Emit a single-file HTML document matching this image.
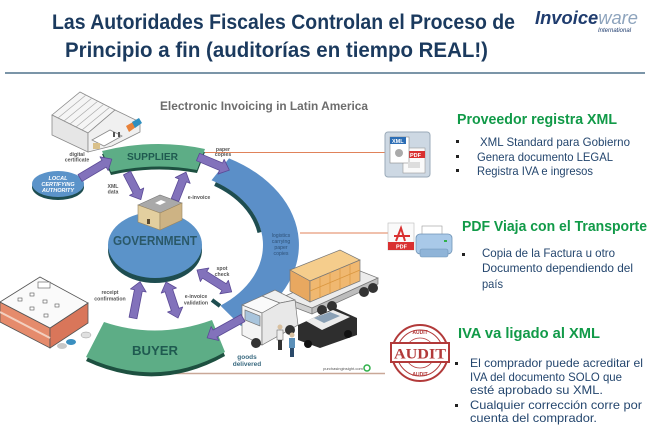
<!DOCTYPE html>
<html><head><meta charset="utf-8"><style>
html,body{margin:0;padding:0;background:#fff;}
svg{display:block;}
</style></head><body>
<svg width="650" height="439" viewBox="0 0 650 439" xmlns="http://www.w3.org/2000/svg" font-family="'Liberation Sans', sans-serif">
<rect width="650" height="439" fill="#fff"/>
<!-- Title -->
<text x="52" y="29" font-size="21" font-weight="bold" fill="#1b3a5e" textLength="463" lengthAdjust="spacingAndGlyphs">Las Autoridades Fiscales Controlan el Proceso de</text>
<text x="65" y="57" font-size="21" font-weight="bold" fill="#1b3a5e" textLength="423" lengthAdjust="spacingAndGlyphs">Principio a fin (auditorías en tiempo REAL!)</text>
<!-- Logo -->
<text x="535" y="24" font-size="18" font-weight="bold" font-style="italic" textLength="103" lengthAdjust="spacingAndGlyphs"><tspan fill="#1f3c6e">Invoice</tspan><tspan fill="#8ea4bd" font-weight="normal">ware</tspan></text>
<text x="598" y="32" font-size="6" font-style="italic" fill="#1f3c6e">International</text>
<line x1="5" y1="73" x2="645" y2="73" stroke="#7b95a8" stroke-width="2"/>

<!-- Diagram title -->
<text x="160" y="110" font-size="11.5" font-weight="bold" fill="#6d6d6d" textLength="208" lengthAdjust="spacingAndGlyphs">Electronic Invoicing in Latin America</text>

<!-- connector lines -->
<line x1="205" y1="152.5" x2="386" y2="152.5" stroke="#e0825a" stroke-width="1"/>
<line x1="300" y1="233" x2="388" y2="233" stroke="#e0825a" stroke-width="1"/>
<line x1="175" y1="373.5" x2="385" y2="373.5" stroke="#c9a898" stroke-width="1.5"/>

<!-- Supplier warehouse -->
<g stroke="#8a8a8a" stroke-width="0.8">
<polygon points="52,115 80,92 115,110 88,133" fill="#f5f5f5"/>
<g stroke="#aaa" stroke-width="0.7">
<line x1="58" y1="118" x2="86" y2="95"/><line x1="64" y1="121" x2="92" y2="98"/><line x1="70" y1="124" x2="98" y2="101"/><line x1="76" y1="127" x2="104" y2="104"/><line x1="82" y1="130" x2="110" y2="107"/>
</g>
<polygon points="52,115 88,133 88,152 52,135" fill="#e6e6e6"/>
<polygon points="88,133 115,110 140,122 140,132 112,146 88,152" fill="#f0f0f0"/>
<polygon points="92,140 110,130 122,136 104,146" fill="#fff"/>
</g>
<rect x="93" y="143" width="7" height="6" fill="#d9c08a"/>
<rect x="113" y="132" width="2" height="5" fill="#555"/>
<rect x="118" y="132" width="2" height="5" fill="#555"/>
<polygon points="126,126 133,122 136,127 129,132" fill="#e8823a"/>
<polygon points="132,122 139,118 142,123 135,128" fill="#2f8fbf"/>

<!-- Big blue arc -->
<path d="M229,158.4 A136,99 0 0 1 241,326 L220.4,305.6 A100,74 0 0 0 211.5,180.3 Z" fill="#5b8fc8"/>
<path d="M215,184 A98,72 0 0 1 259.5,232.5" fill="none" stroke="#1e4d50" stroke-width="4"/>
<path d="M212,300 L220,306" stroke="#1e4d50" stroke-width="4"/>

<!-- Supplier band -->
<path d="M102,154 Q155,141 205,152 L197,173 Q155,165 111,175 Z" fill="#1d5040"/>
<path d="M102,151 Q155,138 205,149 L197,170 Q155,162 111,172 Z" fill="#5dad86"/>
<text x="127" y="160" font-size="10" font-weight="bold" fill="#1f5a50" textLength="51" lengthAdjust="spacingAndGlyphs">SUPPLIER</text>

<!-- Government disc -->
<ellipse cx="155" cy="250" rx="47" ry="33" fill="#1e4d50"/>
<ellipse cx="155" cy="245" rx="47" ry="33" fill="#5b93c9"/>
<!-- gov building -->
<polygon points="138,205 160,195 182,203 160,213" fill="#a9a9a9" stroke="#777" stroke-width="0.6"/>
<polygon points="138,205 160,213 160,230 138,222" fill="#e3cf9f" stroke="#9a8660" stroke-width="0.6"/>
<polygon points="160,213 182,203 182,220 160,230" fill="#cdb384" stroke="#9a8660" stroke-width="0.6"/>
<polygon points="155,203 161,200 166,202 160,205" fill="#fff"/>
<rect x="147" y="219" width="3" height="5" fill="#5a4a30"/>
<text x="113" y="245" font-size="13" font-weight="bold" fill="#2a5868" textLength="84" lengthAdjust="spacingAndGlyphs">GOVERNMENT</text>

<!-- Local certifying authority -->
<ellipse cx="58" cy="187" rx="26" ry="13" fill="#1e4d50"/>
<ellipse cx="58" cy="184" rx="26" ry="13" fill="#5b93c9"/>
<g font-size="5.5" font-weight="bold" font-style="italic" fill="#fff" text-anchor="middle">
<text x="58" y="180">LOCAL</text><text x="58" y="186">CERTIFYING</text><text x="58" y="192">AUTHORITY</text>
</g>

<!-- Buyer band -->
<path d="M104,326 Q157,344 212,324 L225,356 Q157,394 86,361 Z" fill="#1d5040"/>
<path d="M104,322 Q157,340 212,320 L225,352 Q157,390 86,357 Z" fill="#5dad86"/>
<text x="132" y="355" font-size="13" font-weight="bold" fill="#1f5a50" textLength="46" lengthAdjust="spacingAndGlyphs">BUYER</text>

<!-- Buyer building -->
<g stroke="#555" stroke-width="0.8">
<polygon points="0,302 50,328 50,348 0,322" fill="#e58b6c"/>
<polygon points="50,328 88,303 88,323 50,348" fill="#d9765a"/>
<polygon points="0,302 40,277 88,303 50,328" fill="#fafafa"/>
</g>
<g fill="#fff" stroke="#555" stroke-width="0.6">
<rect x="38" y="282" width="12" height="6"/>
<rect x="18" y="298" width="4" height="3"/><rect x="30" y="293" width="4" height="3"/><rect x="43" y="300" width="4" height="3"/>
<rect x="30" y="307" width="4" height="3"/><rect x="55" y="304" width="4" height="3"/><rect x="44" y="314" width="4" height="3"/>
</g>
<line x1="0" y1="312" x2="50" y2="338" stroke="#f3d0c0" stroke-width="2"/>
<ellipse cx="62" cy="346" rx="5" ry="3" fill="#c8c8c8"/>
<ellipse cx="71" cy="342" rx="5" ry="3" fill="#3a8fc0"/>
<ellipse cx="86" cy="335" rx="5" ry="3" fill="#e0e0e0" stroke="#999" stroke-width="0.5"/>

<!-- Truck -->
<g stroke="#777" stroke-width="0.7">
<polygon points="283,297 350,267 378,278 312,308" fill="#ececec"/>
<polygon points="283,297 312,308 312,314 283,303" fill="#cfcfcf"/>
<polygon points="312,308 378,278 378,284 312,314" fill="#bdbdbd"/>
<polygon points="290,270 340,250 360,260 310,281" fill="#f5cd8c"/>
<polygon points="290,270 310,281 310,302 290,291" fill="#e8a860"/>
<polygon points="310,281 360,260 360,281 310,302" fill="#f0b870"/>
</g>
<g stroke="#d9963f" stroke-width="0.7">
<line x1="320" y1="277" x2="320" y2="298"/><line x1="330" y1="272" x2="330" y2="294"/><line x1="340" y1="268" x2="340" y2="290"/><line x1="350" y1="264" x2="350" y2="285"/>
<line x1="310" y1="291" x2="360" y2="270"/>
</g>
<circle cx="364" cy="292" r="5" fill="#333"/><circle cx="373" cy="288" r="5" fill="#333"/>
<circle cx="322" cy="310" r="5" fill="#333"/><circle cx="332" cy="306" r="5" fill="#333"/>
<g stroke="#777" stroke-width="0.7">
<polygon points="242,305 262,296 280,303 262,313" fill="#fafafa"/>
<polygon points="262,296 275,290 295,300 280,303" fill="#f0f0f0"/>
<polygon points="242,305 262,313 262,345 242,335" fill="#f4f4f4"/>
<polygon points="262,313 280,303 295,300 298,325 262,345" fill="#e8e8e8"/>
<polygon points="245,310 260,316 260,326 245,320" fill="#a8c4dc"/>
</g>
<circle cx="256" cy="343" r="5" fill="#333"/><circle cx="290" cy="330" r="5" fill="#333"/>
<!-- police car -->
<polygon points="298,325 335,308 357,318 357,335 320,348 298,340" fill="#2e2e2e"/>
<polygon points="306,321 333,310 350,317 322,330" fill="#ececec"/>
<polygon points="314,318 330,312 340,316 324,323" fill="#8aa0b5"/>
<circle cx="308" cy="344" r="4" fill="#111"/><circle cx="348" cy="334" r="4" fill="#111"/>
<!-- people -->
<circle cx="280" cy="327" r="2.5" fill="#d8c0a0"/>
<rect x="277" y="330" width="6" height="10" fill="#eee" stroke="#555" stroke-width="0.5"/>
<rect x="278" y="340" width="4" height="10" fill="#333"/>
<circle cx="292" cy="335" r="2.5" fill="#d8c0a0"/>
<rect x="289" y="338" width="6" height="10" fill="#5a8fb8"/>
<rect x="290" y="348" width="4" height="9" fill="#2a4a6a"/>

<!-- Purple arrows -->
<g fill="#8272bb" stroke="#5b4a96" stroke-width="0.8" stroke-linejoin="round">
<polygon transform="translate(80,178) rotate(-30.7)" points="0,-4 28,-4 28,-8 37,0 28,8 28,4 0,4"/>
<polygon transform="translate(127,173) rotate(62.6)" points="0,-4 21,-4 21,-8 30,0 21,8 21,4 0,4"/>
<polygon transform="translate(175,200) rotate(-68.5)" points="0,-4 21,-4 21,-8 30,0 21,8 21,4 0,4"/>
<polygon transform="translate(198,157) rotate(22.8)" points="0,-4 25,-4 25,-8 34,0 25,8 25,4 0,4"/>
<polygon transform="translate(197,270) rotate(32.2)" points="0,0 9,-8 9,-4 32,-4 32,-8 41,0 32,8 32,4 9,4 9,8"/>
<polygon transform="translate(133,318) rotate(-79)" points="0,-4 28,-4 28,-8 37,0 28,8 28,4 0,4"/>
<polygon transform="translate(166,282) rotate(71.6)" points="0,0 9,-8 9,-4 29,-4 29,-8 38,0 29,8 29,4 9,4 9,8"/>
<polygon transform="translate(243,318) rotate(151)" points="0,-4 32,-4 32,-8 41,0 32,8 32,4 0,4"/>
</g>

<!-- small labels -->
<g font-size="5.2" font-weight="bold" fill="#555" text-anchor="middle">
<text x="77" y="156">digital</text><text x="77" y="161.5">certificate</text>
<text x="113" y="188">XML</text><text x="113" y="193.5">data</text>
<text x="199" y="199">e-invoice</text>
<text x="223" y="151">paper</text><text x="223" y="156">copies</text>
<text x="222" y="270">spot</text><text x="222" y="276">check</text>
<text x="110" y="294">receipt</text><text x="110" y="300.5">confirmation</text>
<text x="196" y="298">e-invoice</text><text x="196" y="304.5">validation</text>
</g>
<g font-size="5.2" fill="#2f5278" text-anchor="middle">
<text x="281" y="237">logistics</text><text x="281" y="243">carrying</text><text x="281" y="249">paper</text><text x="281" y="255">copies</text>
</g>
<g font-size="6.5" font-weight="bold" fill="#3a6a80" text-anchor="middle">
<text x="247" y="359">goods</text><text x="247" y="366">delivered</text>
</g>
<text x="343" y="370" font-size="4" fill="#555" text-anchor="middle">purchasinginsight.com</text>
<circle cx="367" cy="368" r="3" fill="none" stroke="#2fb04a" stroke-width="1.5"/>

<!-- XML/PDF icon -->
<rect x="385" y="132" width="45" height="45" rx="3" fill="#cdd8e3" stroke="#9aaab8" stroke-width="1"/>
<rect x="403" y="148" width="22" height="25" fill="#fafafa" stroke="#999" stroke-width="0.6"/>
<rect x="407" y="151" width="18" height="7" fill="#d93030"/>
<text x="410" y="157" font-size="5.5" font-weight="bold" fill="#fff">PDF</text>
<rect x="390" y="137" width="19" height="26" fill="#fff" stroke="#888" stroke-width="0.6"/>
<rect x="390" y="137" width="16" height="7" fill="#2d6eb5"/>
<text x="392" y="143" font-size="5.5" font-weight="bold" fill="#fff">XML</text>
<circle cx="399" cy="153" r="4" fill="#aaa"/>
<rect x="408" y="162" width="12" height="6" fill="#ddd"/>

<!-- PDF + printer icon -->
<rect x="388" y="223" width="26" height="27" fill="#fafafa" stroke="#bbb" stroke-width="0.6"/>
<path d="M396,241 L401,228 L405,241 M394,236 L410,236" fill="none" stroke="#d93030" stroke-width="2"/>
<rect x="388" y="242" width="26" height="8" fill="#d93030"/>
<text x="396" y="248.5" font-size="5.5" font-weight="bold" fill="#fff">PDF</text>
<rect x="422" y="226" width="20" height="10" fill="#fff" stroke="#999" stroke-width="0.6"/>
<rect x="416" y="234" width="36" height="20" rx="4" fill="#a9c9e8" stroke="#6f93b5" stroke-width="0.8"/>
<rect x="420" y="249" width="28" height="8" rx="2" fill="#8fb4d8" stroke="#6f93b5" stroke-width="0.6"/>
<rect x="444" y="240" width="3" height="2" fill="#2fb04a"/>

<!-- Audit stamp -->
<g fill="none" stroke="#b23a3a">
<circle cx="420" cy="353" r="28" stroke-width="2"/>
<circle cx="420" cy="353" r="23" stroke-width="1"/>
<circle cx="420" cy="353" r="15" stroke-width="0.8"/>
<rect x="391" y="343" width="58" height="19" stroke-width="2" fill="#fff"/>
</g>
<text x="420" y="358.5" font-size="15" font-weight="bold" fill="#b23a3a" text-anchor="middle" textLength="52" lengthAdjust="spacingAndGlyphs" font-family="'Liberation Serif', serif">AUDIT</text>
<text x="420" y="334" font-size="5" font-weight="bold" fill="#b23a3a" text-anchor="middle">AUDIT</text>
<text x="420" y="376" font-size="5" font-weight="bold" fill="#b23a3a" text-anchor="middle">AUDIT</text>

<!-- Right text blocks -->
<g font-weight="bold" fill="#119a48" font-size="15">
<text x="457" y="124" textLength="160" lengthAdjust="spacingAndGlyphs">Proveedor registra XML</text>
<text x="462" y="231" textLength="185" lengthAdjust="spacingAndGlyphs">PDF Viaja con el Transporte</text>
<text x="458" y="338" textLength="142" lengthAdjust="spacingAndGlyphs">IVA va ligado al  XML</text>
</g>
<g fill="#222">
<rect x="456" y="140" width="3" height="3"/><rect x="456" y="155" width="3" height="3"/><rect x="456" y="169" width="3" height="3"/>
<rect x="462" y="253" width="3" height="3"/>
<rect x="455" y="362" width="3" height="3"/><rect x="455" y="404" width="3" height="3"/>
</g>
<g fill="#24466e" font-size="12">
<text x="480" y="146" textLength="150" lengthAdjust="spacingAndGlyphs">XML Standard para Gobierno</text>
<text x="477" y="161" textLength="136" lengthAdjust="spacingAndGlyphs">Genera documento LEGAL</text>
<text x="477" y="175" textLength="116" lengthAdjust="spacingAndGlyphs">Registra IVA e ingresos</text>
<text x="482" y="257" textLength="133" lengthAdjust="spacingAndGlyphs">Copia de la Factura u otro</text>
<text x="482" y="272" textLength="151" lengthAdjust="spacingAndGlyphs">Documento dependiendo del</text>
<text x="482" y="288" textLength="21" lengthAdjust="spacingAndGlyphs">país</text>
<text x="470" y="367" textLength="173" lengthAdjust="spacingAndGlyphs">El comprador puede acreditar el</text>
<text x="470" y="381" textLength="152" lengthAdjust="spacingAndGlyphs">IVA del documento SOLO que</text>
<text x="470" y="394" textLength="133" lengthAdjust="spacingAndGlyphs">esté  aprobado su XML.</text>
<text x="470" y="409" textLength="172" lengthAdjust="spacingAndGlyphs">Cualquier corrección corre por</text>
<text x="470" y="422" textLength="127" lengthAdjust="spacingAndGlyphs">cuenta del comprador.</text>
</g>
</svg>
</body></html>
